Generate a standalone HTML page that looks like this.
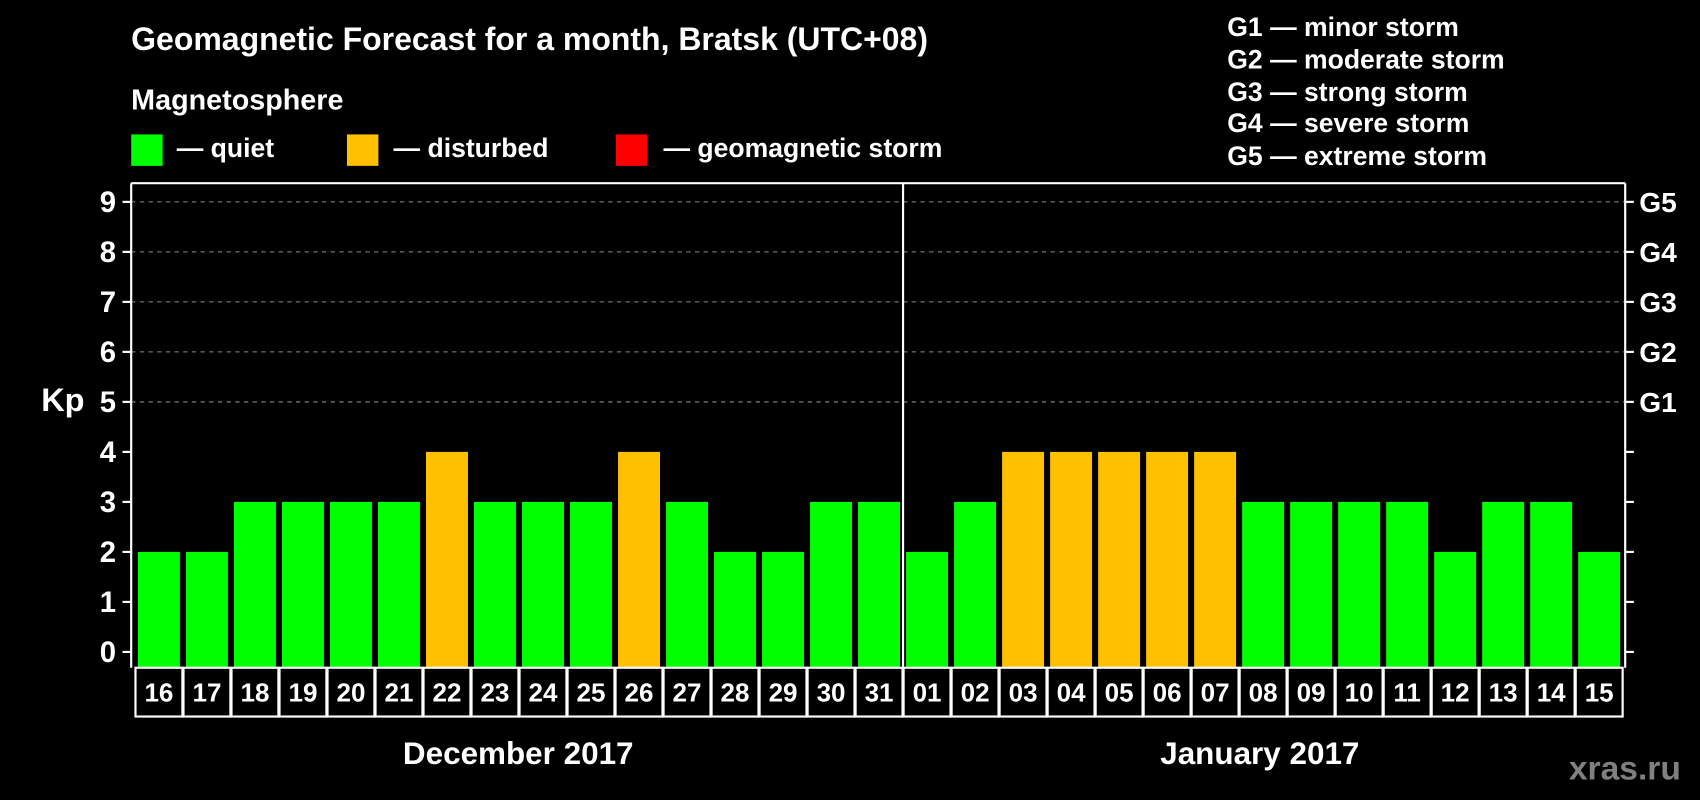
<!DOCTYPE html>
<html><head><meta charset="utf-8"><style>
html,body{margin:0;padding:0;background:#000;}
svg{display:block;font-family:"Liberation Sans",Arial,sans-serif;font-weight:bold;}
</style></head><body>
<svg id="chart" width="1700" height="800" viewBox="0 0 1568 738" preserveAspectRatio="none" xmlns="http://www.w3.org/2000/svg">
<rect x="0" y="0" width="1568" height="738" fill="#000"/>
<text x="121" y="46" fill="#fff" font-size="29.5">Geomagnetic Forecast for a month, Bratsk (UTC+08)</text>
<text x="121" y="101" fill="#fff" font-size="26.5">Magnetosphere</text>
<g><rect x="121" y="124" width="29" height="29" fill="#00ff00"/><text x="163" y="145" fill="#fff" font-size="24.5">— quiet</text></g>
<g><rect x="320" y="124" width="29" height="29" fill="#ffc000"/><text x="363" y="145" fill="#fff" font-size="24.5">— disturbed</text></g>
<g><rect x="568" y="124" width="29" height="29" fill="#ff0000"/><text x="612" y="145" fill="#fff" font-size="24.5">— geomagnetic storm</text></g>
<g fill="#fff" font-size="24.5">
<text x="1132" y="33">G1 — minor storm</text>
<text x="1132" y="63">G2 — moderate storm</text>
<text x="1132" y="93">G3 — strong storm</text>
<text x="1132" y="122">G4 — severe storm</text>
<text x="1132" y="152">G5 — extreme storm</text>
</g>
<text x="38" y="379" fill="#fff" font-size="30">Kp</text>
<g id="grid"></g>
<g id="bars"></g>
<g id="axes"></g>
<text x="478" y="705" text-anchor="middle" fill="#fff" font-size="29">December 2017</text>
<text x="1162" y="705" text-anchor="middle" fill="#fff" font-size="29">January 2017</text>
<text x="1447" y="719" fill="#808080" font-size="31">xras.ru</text>
</svg>
<script>
const days = ["16","17","18","19","20","21","22","23","24","25","26","27","28","29","30","31","01","02","03","04","05","06","07","08","09","10","11","12","13","14","15"];
const kpValues = [2,2,3,3,3,3,4,3,3,3,4,3,2,2,3,3,2,3,4,4,4,4,4,3,3,3,3,2,3,3,2];
const yTicks = [0,1,2,3,4,5,6,7,8,9];
const gLabels = ["G1","G2","G3","G4","G5"];
const gLevels = [5,6,7,8,9];

const NS = "http://www.w3.org/2000/svg";
const plotLeft = 121, plotRight = 1499, plotTop = 169, plotBottom = 616;
const x0 = 146.6, step = 44.28, barW = 38.7;
function xScale(i){ return x0 + i*step; }
function yScale(v){ return 601.4 - v*46.13; }
function colorFor(v){ return v >= 5 ? "#ff0000" : (v >= 4 ? "#ffc000" : "#00ff00"); }
function mk(tag, attrs, parent){ const e=document.createElementNS(NS,tag); for(const k in attrs) e.setAttribute(k,attrs[k]); parent.appendChild(e); return e; }

const gridG = document.getElementById("grid");
const barsG = document.getElementById("bars");
const axesG = document.getElementById("axes");

gLevels.forEach((lv)=>{
  const l = mk("line",{x1:plotLeft,x2:plotRight,y1:yScale(lv),y2:yScale(lv),stroke:"#8a8a8a","stroke-width":1,"stroke-dasharray":"4,4"},gridG);
  
  
});

kpValues.forEach((v,i)=>{
  const r = mk("rect",{x:xScale(i)-barW/2,y:yScale(v),width:barW,height:plotBottom-yScale(v),fill:colorFor(v)},barsG);
  
  
});

mk("line",{x1:plotLeft,x2:plotRight,y1:plotTop,y2:plotTop,stroke:"#fff","stroke-width":2},axesG);
mk("line",{x1:plotLeft,x2:plotLeft,y1:plotTop,y2:plotBottom,stroke:"#fff","stroke-width":2},axesG);
mk("line",{x1:plotRight,x2:plotRight,y1:plotTop,y2:plotBottom,stroke:"#fff","stroke-width":2},axesG);
const divX = (xScale(15)+xScale(16))/2;
const div = mk("line",{x1:divX,x2:divX,y1:plotTop,y2:661,stroke:"#fff","stroke-width":2},axesG);



yTicks.forEach((t)=>{
  const y = yScale(t);
  mk("line",{x1:plotLeft-8,x2:plotLeft,y1:y,y2:y,stroke:"#fff","stroke-width":2},axesG);
  mk("line",{x1:plotRight,x2:plotRight+8,y1:y,y2:y,stroke:"#fff","stroke-width":2},axesG);
  const tx = mk("text",{x:107,y:y+9.5,"text-anchor":"end",fill:"#fff","font-size":27},axesG);
  tx.textContent = t;
  
  
});
gLevels.forEach((lv,i)=>{
  const tx = mk("text",{x:1512,y:yScale(lv)+9.5,fill:"#fff","font-size":26},axesG);
  tx.textContent = gLabels[i];
  
  
});

days.forEach((d,i)=>{
  const cx = xScale(i);
  const b = mk("rect",{x:cx-step/2+0.5,y:plotBottom,width:step-1,height:45,fill:"#000",stroke:"#fff","stroke-width":2},axesG);
  
  
  const tx = mk("text",{x:cx,y:plotBottom+31,"text-anchor":"middle",fill:"#fff","font-size":24},axesG);
  tx.textContent = d;
  
  
});
</script>
</body></html>
